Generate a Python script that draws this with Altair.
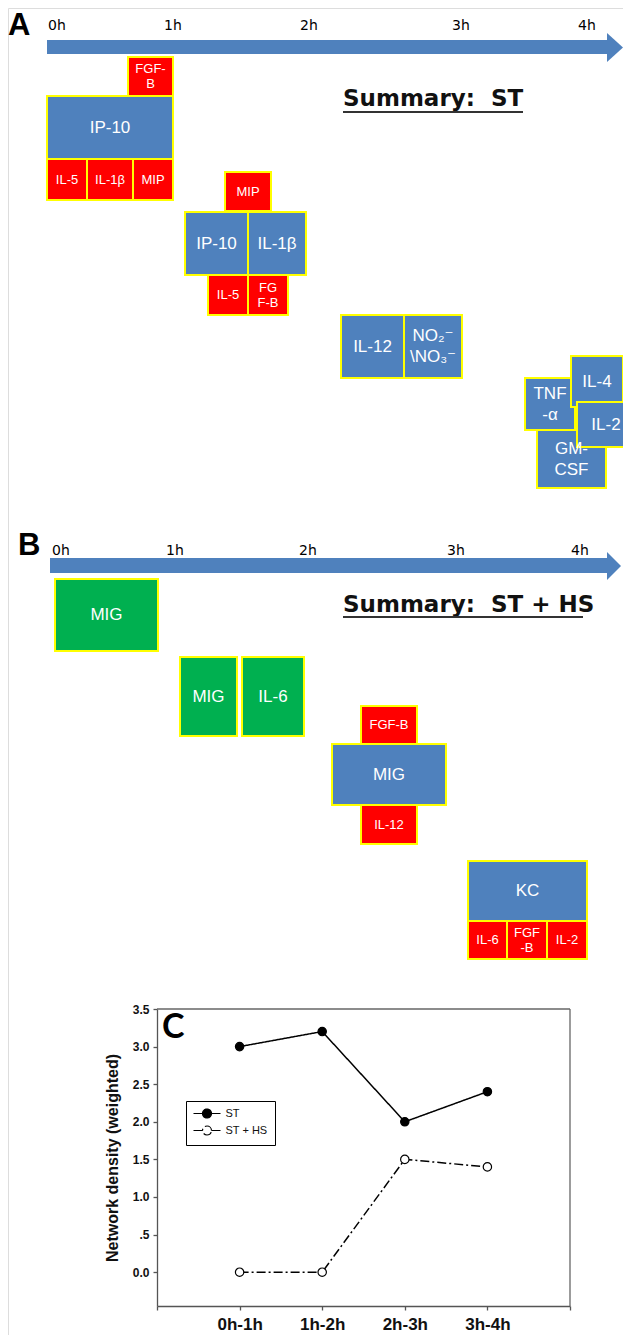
import altair as alt
import pandas as pd

W, H = 615, 1327          # whole chart (page = 631 x 1343 minus 8px margins)
OX, OY = 8, 8              # page margin: layout units below are page pixels

# ---------------- Panels A / B : timeline diagrams ----------------
box_label = ["FGF-\nB", "IP-10", "IL-5", "IL-1β", "MIP",
             "MIP", "IP-10", "IL-1β", "IL-5", "FG\nF-B",
             "IL-12", "NO\u2082\u207b\n\\NO\u2083\u207b",
             "TNF\n-α", "GM-\nCSF", "IL-4", "IL-2",
             "MIG", "MIG", "IL-6",
             "FGF-B", "MIG", "IL-12",
             "KC", "IL-6", "FGF\n-B", "IL-2"]
box_x0 = [128, 47, 47, 87, 133, 225, 185, 248, 208, 248, 341, 404, 525, 537, 571, 577,
          55, 180, 242, 361, 332, 361, 468, 468, 507, 547]
box_x1 = [173, 173, 87, 133, 173, 271, 248, 306, 248, 288, 404, 462, 575, 606, 623, 635,
          158, 237, 304, 417, 446, 417, 587, 507, 547, 587]
box_y0 = [57, 96, 159, 159, 159, 172, 212, 212, 275, 275, 315, 315, 378, 430, 356, 402,
          579, 657, 657, 706, 744, 805, 861, 921, 921, 921]
box_y1 = [96, 159, 200, 200, 200, 211, 275, 275, 315, 315, 378, 378, 430, 488, 407, 447,
          651, 736, 736, 744, 805, 844, 921, 959, 959, 959]
box_kind = ["red", "blue", "red", "red", "red", "red", "blue", "blue", "red", "red",
            "blue", "blue", "blue", "blue", "blue", "blue",
            "green", "green", "green", "red", "blue", "red", "blue", "red", "red", "red"]
box_size = ["small", "big", "small", "small", "small", "small", "big", "big", "small", "small",
            "big", "big", "big", "big", "big", "big",
            "big", "big", "big", "small", "big", "small", "big", "small", "small", "small"]
kind_color = {"blue": "#4F81BD", "red": "#FF0000", "green": "#00B050"}

# timeline arrows (shaft + head), tick labels, titles
arrow_panel = ["A", "B"]
shaft_x0 = [47, 50]
shaft_x1 = [607, 607]
shaft_y0 = [40, 558]
shaft_y1 = [54, 573]
head_base = [607, 607]
head_tip = [623, 621]
head_top = [33, 552]
head_bot = [62, 580]

tick_text = ["0h", "1h", "2h", "3h", "4h", "0h", "1h", "2h", "3h", "4h"]
tick_x = [57, 173, 309, 461, 587, 61, 175, 308, 456, 580]
tick_y = [30, 30, 30, 30, 30, 555, 555, 555, 555, 555]

summary_text = ["Summary:\u00a0\u00a0ST", "Summary:\u00a0\u00a0ST + HS"]
summary_x = [343, 343]
summary_y = [106, 612]
underline_x1 = [523, 583]
underline_y = [112, 617]

panel_letter = ["A", "B"]
letter_x = [8, 18]
letter_y = [35, 555]

boxes = pd.DataFrame({"label": box_label, "x0": box_x0, "x1": box_x1, "y0": box_y0,
                      "y1": box_y1, "size": box_size, "kind": box_kind,
                      "fill": [kind_color[k] for k in box_kind],
                      "nl": [s.count("\n") + 1 for s in box_label]})
shafts = pd.DataFrame({"panel": arrow_panel, "x0": shaft_x0, "x1": shaft_x1,
                       "y0": shaft_y0, "y1": shaft_y1})
heads = pd.DataFrame({
    "panel": arrow_panel + arrow_panel,
    "hx": head_base + head_tip,
    "ht": head_top + [(a + b) / 2 for a, b in zip(head_top, head_bot)],
    "hb": head_bot + [(a + b) / 2 for a, b in zip(head_top, head_bot)],
})
ticks = pd.DataFrame({"t": tick_text, "x": tick_x, "y": tick_y})
summ = pd.DataFrame({"t": summary_text, "x": summary_x, "y": summary_y,
                     "x1": underline_x1, "uy": underline_y})
letters = pd.DataFrame({"t": panel_letter, "x": letter_x, "y": letter_y})

xs = alt.Scale(domain=[OX, OX + W], range=[0, W], nice=False, zero=False)
ys = alt.Scale(domain=[OY, OY + H], range=[0, H], nice=False, zero=False)
ARROW = "#4F81BD"

shaft_l = alt.Chart(shafts).mark_rect(color=ARROW).encode(
    x=alt.X("x0:Q", scale=xs, axis=None), x2="x1:Q",
    y=alt.Y("y0:Q", scale=ys, axis=None), y2="y1:Q")
head_l = alt.Chart(heads).mark_area(color=ARROW, orient="vertical").encode(
    x=alt.X("hx:Q", scale=xs, axis=None),
    y=alt.Y("ht:Q", scale=ys, axis=None), y2="hb:Q", detail="panel:N")

# base fill layer (identity colours), fully covered by the bordered layers drawn above it
base_l = alt.Chart(boxes).mark_rect(stroke="black", strokeWidth=1.2).encode(
    x=alt.X("x0:Q", scale=xs, axis=None), x2="x1:Q",
    y=alt.Y("y0:Q", scale=ys, axis=None), y2="y1:Q",
    fill=alt.Fill("fill:N", scale=None))


def box_layer(kind):
    return alt.Chart(boxes).transform_filter(alt.datum.kind == kind).mark_rect(
        fill=kind_color[kind], stroke="#FFFF00", strokeWidth=2).encode(
        x=alt.X("x0:Q", scale=xs, axis=None), x2="x1:Q",
        y=alt.Y("y0:Q", scale=ys, axis=None), y2="y1:Q")


def box_text(sz, fs, lh):
    return alt.Chart(boxes).transform_filter(alt.datum.size == sz).transform_calculate(
        xc="(datum.x0 + datum.x1) / 2",
        yc="(datum.y0 + datum.y1) / 2 - (datum.nl - 1) * %s / 2" % lh
    ).mark_text(font="Liberation Sans, DejaVu Sans", fontSize=fs, lineHeight=lh,
                lineBreak="\n", color="white", align="center", baseline="middle").encode(
        x=alt.X("xc:Q", scale=xs, axis=None), y=alt.Y("yc:Q", scale=ys, axis=None),
        text="label:N")


big_t = box_text("big", 17, 21)
small_t = box_text("small", 13, 15)

tick_l = alt.Chart(ticks).mark_text(font="DejaVu Sans", fontSize=14, color="black",
                                    align="center", baseline="alphabetic").encode(
    x=alt.X("x:Q", scale=xs, axis=None), y=alt.Y("y:Q", scale=ys, axis=None), text="t:N")
summ_l = alt.Chart(summ).mark_text(font="DejaVu Sans", fontWeight="bold", fontSize=23,
                                   color="#111", align="left", baseline="alphabetic").encode(
    x=alt.X("x:Q", scale=xs, axis=None), y=alt.Y("y:Q", scale=ys, axis=None), text="t:N")
under_l = alt.Chart(summ).mark_rule(color="#333", strokeWidth=2).encode(
    x=alt.X("x:Q", scale=xs, axis=None), x2="x1:Q", y=alt.Y("uy:Q", scale=ys, axis=None))
letter_l = alt.Chart(letters).mark_text(font="Liberation Sans", fontWeight="bold",
                                        fontSize=31, color="black", align="left",
                                        baseline="alphabetic").encode(
    x=alt.X("x:Q", scale=xs, axis=None), y=alt.Y("y:Q", scale=ys, axis=None), text="t:N")

diagram = alt.layer(shaft_l, head_l, base_l, box_layer("green"), box_layer("red"),
                    box_layer("blue"), big_t, small_t, tick_l, summ_l, under_l, letter_l)

# ---------------- Panel C : network density ----------------
periods = ["0h-1h", "1h-2h", "2h-3h", "3h-4h"]
st_vals = [3.0, 3.2, 2.0, 2.4]
sths_vals = [0.0, 0.0, 1.5, 1.4]
series = ["ST", "ST + HS"]
y_ticks = [0.0, 0.5, 1.0, 1.5, 2.0, 2.5, 3.0, 3.5]
y_min, y_max = -0.45, 3.5

dens = pd.DataFrame({
    "period": periods + periods,
    "idx": list(range(1, 5)) + list(range(1, 5)),
    "value": st_vals + sths_vals,
    "series": [series[0]] * 4 + [series[1]] * 4,
})

# plot frame in page pixels (left, right, top, bottom)
FL, FR, FT, FB = 157, 570, 1009, 1306
cx = alt.Scale(domain=[0, len(periods) + 1], range=[FL - OX, FR - OX], nice=False, zero=False)
cy = alt.Scale(domain=[y_min, y_max], range=[FB - OY, FT - OY], nice=False, zero=False)

label_list = "[''," + ",".join("'%s'" % p for p in periods) + ",'']"
xaxis = alt.Axis(orient="bottom", offset=(FB - OY) - H, values=list(range(0, len(periods) + 2)),
                 labelExpr=label_list + "[datum.value]", title=None, grid=False,
                 tickSize=4, labelPadding=6, labelFont="Liberation Sans",
                 labelFontWeight="bold", labelFontSize=17, labelColor="#111",
                 domainColor="#555", tickColor="#555", domainWidth=1.3, tickWidth=1.3,
                 labelFlush=False, labelOverlap=False)
yaxis = alt.Axis(orient="left", offset=-(FL - OX), values=y_ticks,
                 labelExpr="datum.value == 0.5 ? '.5' : format(datum.value, '.1f')",
                 title="Network density (weighted)", titleFont="Liberation Sans",
                 titleFontSize=16, titleFontWeight="bold", titleColor="#111", titleX=-37,
                 grid=False, tickSize=4, labelPadding=4, labelFont="Liberation Sans",
                 labelFontWeight="bold", labelFontSize=12, labelColor="#111",
                 domainColor="#555", tickColor="#555", domainWidth=1.3, tickWidth=1.3,
                 labelFlush=False, labelOverlap=False)

frame = pd.DataFrame({"fx0": [0, len(periods) + 1], "fx1": [len(periods) + 1, len(periods) + 1],
                      "fy0": [y_max, y_min], "fy1": [y_max, y_max]})
frame_l = alt.Chart(frame).mark_rule(color="#666", strokeWidth=1.3).encode(
    x=alt.X("fx0:Q", scale=cx, axis=xaxis), x2="fx1:Q",
    y=alt.Y("fy0:Q", scale=cy, axis=yaxis), y2="fy1:Q")

lines_l = alt.Chart(dens).mark_line(color="black", strokeWidth=1.5).encode(
    x=alt.X("idx:Q", scale=cx, axis=xaxis),
    y=alt.Y("value:Q", scale=cy, axis=yaxis),
    strokeDash=alt.StrokeDash("series:N", scale=alt.Scale(domain=series,
                                                           range=[[1, 0], [9, 3, 2, 3]]),
                              legend=None),
    detail="series:N")

# legend glyph: short line with a circle in the middle
legend_symbol = ("M -3 0 L -1 0 M 1 0 L 3 0 "
                 "M 1 0 A 1 1 0 1 0 -1 0 A 1 1 0 1 0 1 0")
pts_l = alt.Chart(dens).mark_point(shape="circle", filled=True, size=70, stroke="black",
                                   strokeWidth=1.2, opacity=1).encode(
    x=alt.X("idx:Q", scale=cx, axis=xaxis),
    y=alt.Y("value:Q", scale=cy, axis=yaxis),
    fill=alt.Fill("series:N", scale=alt.Scale(domain=series, range=["black", "white"]),
                  legend=alt.Legend(orient="none", legendX=186 - OX, legendY=1101 - OY,
                                    title=None, symbolType=legend_symbol, symbolSize=81,
                                    symbolStrokeColor="black", symbolStrokeWidth=1.2,
                                    symbolOffset=8.5, labelOffset=13,
                                    labelFont="Liberation Sans", labelFontSize=11,
                                    labelColor="#111", padding=7, rowPadding=2,
                                    strokeColor="black", fillColor="white")))

cl = pd.DataFrame({"t": ["C"], "tx": [0.06], "ty": [3.47]})
c_letter = alt.Chart(cl).mark_text(font="Lato", fontWeight="bold", fontSize=34,
                                   color="black", align="left", baseline="top").encode(
    x=alt.X("tx:Q", scale=cx, axis=xaxis), y=alt.Y("ty:Q", scale=cy, axis=yaxis), text="t:N")

panel_c = alt.layer(frame_l, lines_l, pts_l, c_letter)

chart = alt.layer(diagram, panel_c).resolve_scale(
    x="independent", y="independent"
).properties(
    width=W, height=H, autosize=alt.AutoSizeParams(type="none"), padding=0
).configure_view(strokeWidth=0).configure(background="white")

chart.save("out.html", embed_options={"renderer": "svg", "actions": False})
